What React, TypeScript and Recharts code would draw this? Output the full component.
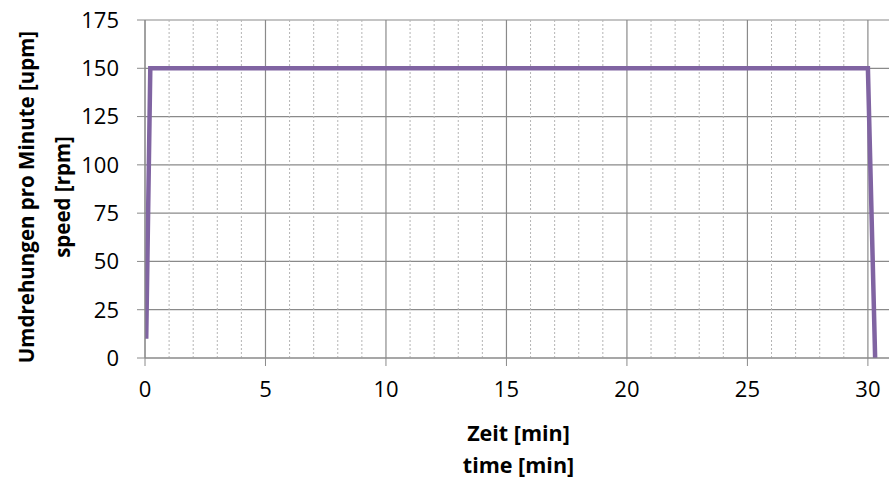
import React from 'react';
import { LineChart, Line, XAxis, YAxis, CartesianGrid, ReferenceLine } from 'recharts';

// Drehzahlverlauf: Rampe hoch, 30 min konstant, Rampe runter
const timeMin = [0.05, 0.22, 30, 30.3];
const speedRpm = [10, 150, 150, 0];

const xTicks = [0, 5, 10, 15, 20, 25, 30];
const yTicks = [0, 25, 50, 75, 100, 125, 150, 175];
const minorX = [1, 2, 3, 4, 6, 7, 8, 9, 11, 12, 13, 14, 16, 17, 18, 19, 21, 22, 23, 24, 26, 27, 28, 29];

const yTitle = ['Umdrehungen pro Minute [upm]', 'speed [rpm]'];
const xTitle = ['Zeit [min]', 'time [min]'];

const FONT = '"Open Sans", Lato, sans-serif';
const GRID = '#8a8a8a';
const PURPLE = '#8064a2';

const data = timeMin.map((t, i) => ({ t, rpm: speedRpm[i] }));

function YTitle(props: any) {
  const vb = props.viewBox || {};
  const cy = (vb.y ?? 0) + (vb.height ?? 0) / 2 + 8;
  const x1 = 26;
  const x2 = 62;
  return (
    <g fontFamily={FONT} fontWeight={700} fontSize={20.5} fill="#000">
      <text x={x1} y={cy} textAnchor="middle" dominantBaseline="central" transform={`rotate(-90 ${x1} ${cy})`}>
        {yTitle[0]}
      </text>
      <text x={x2} y={cy} textAnchor="middle" dominantBaseline="central" transform={`rotate(-90 ${x2} ${cy})`}>
        {yTitle[1]}
      </text>
    </g>
  );
}

function XTitle(props: any) {
  const vb = props.viewBox || {};
  const cx = (vb.x ?? 0) + (vb.width ?? 0) / 2;
  return (
    <g fontFamily={FONT} fontWeight={700} fontSize={21.5} fill="#000">
      <text x={cx} y={432} textAnchor="middle" dominantBaseline="central">{xTitle[0]}</text>
      <text x={cx} y={464} textAnchor="middle" dominantBaseline="central">{xTitle[1]}</text>
    </g>
  );
}

export default function App() {
  return (
    <div style={{ position: 'absolute', left: 0, top: 0, width: 889, height: 478, overflow: 'hidden', background: '#fff' }}>
      <LineChart width={895} height={478} data={data} margin={{ top: 20, right: 3, bottom: 0, left: 0 }}>
        <CartesianGrid stroke={GRID} strokeWidth={1.2} />
        {minorX.map(m => (
          <ReferenceLine key={m} x={m} stroke="#b4b4b4" strokeDasharray="2 2" strokeWidth={1} />
        ))}
        <XAxis
          dataKey="t"
          type="number"
          domain={[0, 31]}
          ticks={xTicks}
          allowDataOverflow
          height={120}
          stroke={GRID}
          tickSize={8}
          tickMargin={15}
          tick={{ fill: '#000', fontSize: 22, fontFamily: FONT }}
          label={{ content: <XTitle /> }}
        />
        <YAxis
          type="number"
          domain={[0, 175]}
          ticks={yTicks}
          width={145}
          stroke={GRID}
          tickSize={8}
          tickMargin={18}
          tick={{ fill: '#000', fontSize: 22, fontFamily: FONT }}
          label={{ content: <YTitle /> }}
        />
        <Line
          dataKey="rpm"
          type="linear"
          stroke={PURPLE}
          strokeWidth={4.5}
          dot={false}
          isAnimationActive={false}
        />
      </LineChart>
    </div>
  );
}
